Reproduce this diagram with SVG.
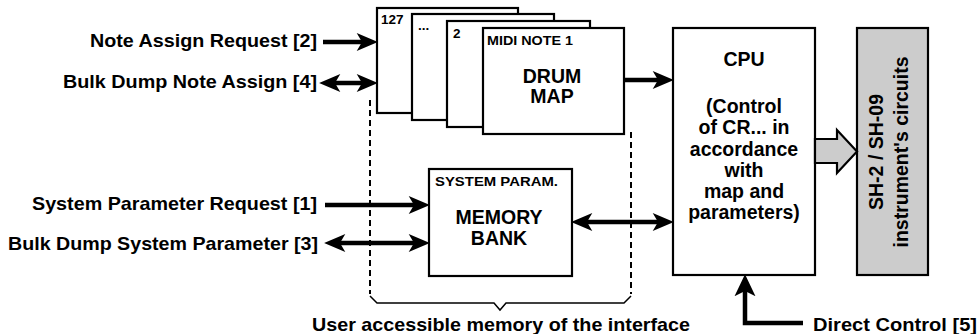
<svg xmlns="http://www.w3.org/2000/svg" width="980" height="334" viewBox="0 0 980 334">
<style>
text{font-family:"Liberation Sans",Arial,Helvetica,sans-serif;font-weight:bold;fill:#000}
.lbl{font-size:18.5px}
.big{font-size:19.5px;text-anchor:middle}
.sm{font-size:13.5px}
.box{fill:#fff;stroke:#000;stroke-width:2.2}
.grey{fill:#cccccc;stroke:#000;stroke-width:2.2}
.arr{fill:none;stroke:#000;stroke-width:4.5}
.dash{fill:none;stroke:#000;stroke-width:2;stroke-dasharray:6,4}
</style>
<defs>
<marker id="ah" markerUnits="userSpaceOnUse" markerWidth="22" markerHeight="18" viewBox="0 0 20 17" refX="5" refY="8.5" orient="auto-start-reverse">
<path d="M0,0 L20,8.5 L0,17 L5,8.5 z" fill="#000"/>
</marker>
<marker id="ahb" markerUnits="userSpaceOnUse" markerWidth="22" markerHeight="22" viewBox="0 0 21 20" refX="5" refY="10" orient="auto">
<path d="M0,0 L21,10 L0,20 L5,10 z" fill="#000"/>
</marker>
</defs>

<g id="labels">
<text class="lbl" x="90" y="47" textLength="227" lengthAdjust="spacingAndGlyphs">Note Assign Request [2]</text>
<text class="lbl" x="63" y="88" textLength="254" lengthAdjust="spacingAndGlyphs">Bulk Dump Note Assign [4]</text>
<text class="lbl" x="32" y="210" textLength="285" lengthAdjust="spacingAndGlyphs">System Parameter Request [1]</text>
<text class="lbl" x="8" y="250" textLength="310" lengthAdjust="spacingAndGlyphs">Bulk Dump System Parameter [3]</text>
<text class="lbl" x="312" y="331" textLength="378" lengthAdjust="spacingAndGlyphs">User accessible memory of the interface</text>
<text class="lbl" x="813" y="331" textLength="164" lengthAdjust="spacingAndGlyphs">Direct Control [5]</text>
</g>

<g id="memory-region">
<path class="dash" d="M370,100 V294"/>
<path class="dash" d="M631,132 V294"/>
<path d="M370,296 L377,303 H494 L500,310 L506,303 H624 L631,296" fill="none" stroke="#000" stroke-width="1.5"/>
</g>

<g id="card-127">
<rect class="box" x="377" y="8" width="141" height="105"/>
<text class="sm" x="381" y="24">127</text>
</g>
<g id="card-dots">
<rect class="box" x="412" y="14" width="142" height="106"/>
<text class="sm" x="418" y="30">...</text>
</g>
<g id="card-2">
<rect class="box" x="447" y="21" width="143" height="106"/>
<text class="sm" x="453" y="38">2</text>
</g>
<g id="drum-map">
<rect class="box" x="483" y="28" width="141" height="106"/>
<text class="sm" x="487" y="45" textLength="86" lengthAdjust="spacingAndGlyphs">MIDI NOTE 1</text>
<text class="big" x="552" y="83">DRUM</text>
<text class="big" x="552" y="103">MAP</text>
</g>

<g id="memory-bank">
<rect class="box" x="429" y="169" width="143" height="107"/>
<text class="sm" x="435" y="186" textLength="123" lengthAdjust="spacingAndGlyphs">SYSTEM PARAM.</text>
<text class="big" x="499" y="224">MEMORY</text>
<text class="big" x="499" y="245">BANK</text>
</g>

<g id="cpu">
<rect class="box" x="673" y="28" width="142" height="247"/>
<text class="big" x="744" y="66">CPU</text>
<text class="big" x="744" y="113">(Control</text>
<text class="big" x="744" y="134">of CR... in</text>
<text class="big" x="744" y="156">accordance</text>
<text class="big" x="744" y="177">with</text>
<text class="big" x="744" y="198">map and</text>
<text class="big" x="744" y="219">parameters)</text>
</g>

<g id="instrument">
<rect class="grey" x="857" y="28" width="71" height="247"/>
<text class="big" transform="translate(883,152) rotate(-90)" x="0" y="0">SH-2 / SH-09</text>
<text class="big" transform="translate(908,152) rotate(-90)" x="0" y="0">instrument's circuits</text>
</g>

<g id="connectors">
<path class="arr" d="M323,42 H362" marker-end="url(#ah)"/>
<path class="arr" d="M335,83 H362" marker-start="url(#ah)" marker-end="url(#ah)"/>
<path class="arr" d="M325,205 H414" marker-end="url(#ah)"/>
<path class="arr" d="M340,243 H414" marker-start="url(#ah)" marker-end="url(#ah)"/>
<path class="arr" d="M624,80 H658" marker-end="url(#ah)"/>
<path class="arr" d="M587,222 H658" marker-start="url(#ah)" marker-end="url(#ah)"/>
<path class="arr" d="M803,323 H745 V291" marker-end="url(#ahb)"/>
<polygon class="grey" points="815,139 837,139 837,130 857,151.5 837,173 837,163 815,163"/>
</g>
</svg>
